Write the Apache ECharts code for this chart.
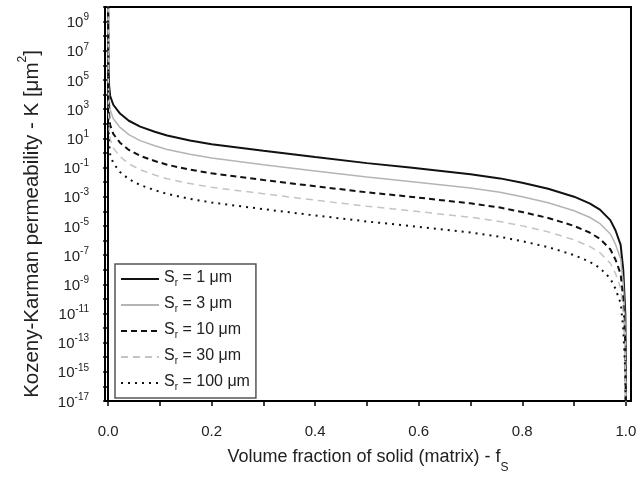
<!DOCTYPE html>
<html>
<head>
    <meta charset="utf-8">
    <title>Kozeny-Karman permeability</title>
    <script src="https://cdn.jsdelivr.net/npm/echarts@6/dist/echarts.min.js"></script>
    <style>
        body { margin: 0; background: #fff; }
    </style>
</head>
<body>
<div id="main" style="width: 644px;height:479px;"></div>
<script type="text/javascript">
    var myChart = echarts.init(document.getElementById('main'));

    // volume fraction of solid, shared by all curves
    var fs = [0.00001, 0.0005, 0.002, 0.004, 0.01, 0.023, 0.04, 0.062, 0.09, 0.114, 0.158, 0.2, 0.3, 0.4, 0.5,
        0.583, 0.7, 0.757, 0.8, 0.85, 0.9, 0.93, 0.95, 0.97, 0.98, 0.99, 0.995, 0.999, 0.9999, 0.99999, 0.999999];

    // permeability, um^2
    var k1 = [1e11, 1e6, 4e4, 8e3, 2e3, 5e2, 1.6e2, 63, 28, 15.5, 7.1, 4.0, 1.4, 0.52, 0.2,
        0.1, 0.035, 0.018, 0.0089, 0.0035, 1e-3, 3.5e-4, 1.3e-4, 2.5e-5, 5e-6, 5e-7, 1e-8, 1e-11, 1e-14, 1e-17, 1e-20];
    var k3 = [1e11, 1.1e5, 4.5e3, 9e2, 2.2e2, 56, 18, 7, 3.1, 1.7, 0.8, 0.45, 0.155, 0.058, 0.022,
        0.011, 0.0039, 0.002, 0.001, 3.9e-4, 1.1e-4, 3.9e-5, 1.45e-5, 2.8e-6, 5.6e-7, 5.6e-8, 1.1e-9, 1.1e-12, 1.1e-15, 1.1e-18, 1.1e-21];
    var k10 = [1e11, 1e4, 4e2, 80, 20, 5, 1.6, 0.63, 0.28, 0.155, 0.071, 0.04, 0.014, 0.0052, 0.002,
        0.001, 3.5e-4, 1.8e-4, 8.9e-5, 3.5e-5, 1e-5, 3.5e-6, 1.3e-6, 2.5e-7, 5e-8, 5e-9, 1e-10, 1e-13, 1e-16, 1e-19, 1e-22];
    var k30 = [1e11, 1.1e3, 45, 9, 2.2, 0.56, 0.18, 0.07, 0.031, 0.017, 0.0079, 0.0044, 0.0016, 5.8e-4, 2.2e-4,
        1.1e-4, 3.9e-5, 2e-5, 1e-5, 3.9e-6, 1.1e-6, 3.9e-7, 1.45e-7, 2.8e-8, 5.6e-9, 5.6e-10, 1.1e-11, 1.1e-14, 1.1e-17, 1.1e-20, 1.1e-23];
    var k100 = [1e11, 1e2, 4, 0.8, 0.2, 0.05, 0.016, 0.0063, 0.0028, 0.00155, 7.1e-4, 4e-4, 1.4e-4, 5.2e-5, 2e-5,
        1e-5, 3.5e-6, 1.8e-6, 8.9e-7, 3.5e-7, 1e-7, 3.5e-8, 1.3e-8, 2.5e-9, 5e-10, 5e-11, 1e-12, 1e-15, 1e-18, 1e-21, 1e-24];

    var radii = ['1', '3', '10', '30', '100'];
    var xTicks = [0, 0.1, 0.2, 0.3, 0.4, 0.5, 0.6, 0.7, 0.8, 0.9, 1.0];
    var xLabels = [0, 0.2, 0.4, 0.6, 0.8, 1.0];

    var curves = [k1, k3, k10, k30, k100];
    var lineStyles = [
        {color: '#111', width: 2, type: 'solid'},
        {color: '#b4b4b4', width: 1.5, type: 'solid'},
        {color: '#111', width: 2, type: [6, 4]},
        {color: '#c4c4c4', width: 1.5, type: [7, 5]},
        {color: '#111', width: 2, type: [2, 5]}
    ];

    var font = 'Liberation Sans';

    var series = curves.map(function (k, n) {
        return {
            name: 'r' + radii[n],
            type: 'line',
            symbol: 'none',
            clip: true,
            lineStyle: lineStyles[n],
            itemStyle: {color: lineStyles[n].color},
            data: fs.map(function (f, i) { return [f, k[i]]; })
        };
    });

    option = {
        backgroundColor: '#fff',
        animation: false,
        grid: {
            left: 105, top: 7, right: 13, bottom: 74,
            show: true, borderColor: '#000', borderWidth: 2
        },
        legend: {
            orient: 'vertical',
            left: 115, top: 264,
            padding: [6, 6, 6, 5],
            itemWidth: 38, itemHeight: 14, itemGap: 8,
            itemStyle: {opacity: 0},
            borderColor: '#555', borderWidth: 1.5,
            formatter: function (name) {
                return '{s|S}{r|r}{s| = ' + name.slice(1) + ' \u03BCm}';
            },
            textStyle: {
                fontFamily: font,
                rich: {
                    s: {fontSize: 16, color: '#222', fontFamily: font, lineHeight: 18, verticalAlign: 'top'},
                    r: {fontSize: 10, color: '#222', fontFamily: font, lineHeight: 18, verticalAlign: 'bottom'}
                }
            },
            data: radii.map(function (r) { return 'r' + r; })
        },
        xAxis: {
            type: 'value',
            min: -0.006, max: 1.01,
            axisLine: {show: true, lineStyle: {color: '#000', width: 2}},
            axisTick: {show: true, customValues: xTicks, length: 5, lineStyle: {color: '#000', width: 1.5}},
            axisLabel: {
                customValues: xLabels, margin: 23,
                fontFamily: font, fontSize: 15, color: '#222',
                formatter: function (v) { return v.toFixed(1); }
            },
            splitLine: {show: false},
            name: '{t|Volume fraction of solid (matrix) - f}{s|S}',
            nameLocation: 'middle',
            nameGap: 47,
            nameTextStyle: {
                rich: {
                    t: {fontSize: 18, color: '#222', fontFamily: font, lineHeight: 26, verticalAlign: 'top'},
                    s: {fontSize: 12, color: '#222', fontFamily: font, lineHeight: 26, verticalAlign: 'bottom'}
                }
            }
        },
        yAxis: {
            type: 'log',
            logBase: 10,
            min: 1e-17, max: 1e10,
            interval: 1,
            axisLine: {show: true, lineStyle: {color: '#000', width: 2}},
            axisTick: {show: true, length: 5, lineStyle: {color: '#000', width: 1.5}},
            axisLabel: {
                margin: 16,
                formatter: function (v) {
                    var e = Math.round(Math.log10(v));
                    if (e % 2 === 0) return '';
                    return '{b|10}{e|' + e + '}';
                },
                rich: {
                    b: {fontSize: 15, color: '#222', fontFamily: font, lineHeight: 18, verticalAlign: 'bottom'},
                    e: {fontSize: 10, color: '#222', fontFamily: font, lineHeight: 18, verticalAlign: 'top'}
                }
            },
            splitLine: {show: false}
        },
        graphic: [{
            type: 'text',
            x: 30, y: 224,
            rotation: Math.PI / 2,
            style: {
                text: '{t|Kozeny-Karman permeability - K [\u03BCm}{e|2}{t|]}',
                align: 'center', verticalAlign: 'middle',
                rich: {
                    t: {fontSize: 20.5, fill: '#222', fontFamily: font, lineHeight: 26, verticalAlign: 'bottom'},
                    e: {fontSize: 12, fill: '#222', fontFamily: font, lineHeight: 26, verticalAlign: 'top'}
                }
            }
        }],
        series: series
    };

    myChart.setOption(option);
</script>
</body>
</html>
